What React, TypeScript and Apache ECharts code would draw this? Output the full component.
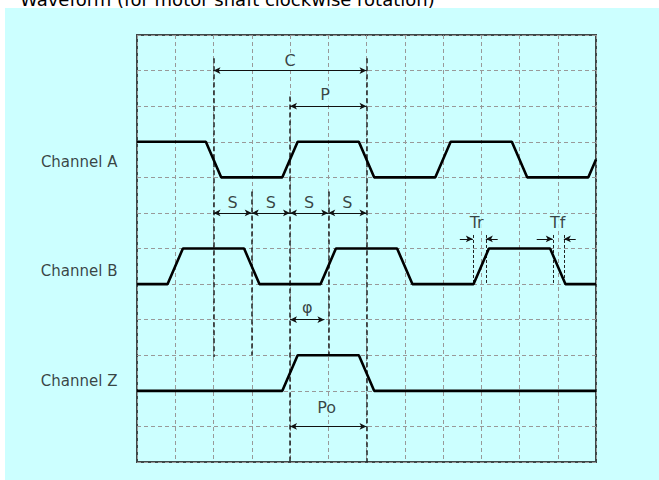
import React, { useEffect, useRef } from "react";
import * as echarts from "echarts";

// Waveforms in grid units (x: 0..12 columns, y: 0..12 rows from bottom)
const channelA: [number, number][] = [
  [0, 9], [1.8, 9], [2.2, 8], [3.8, 8], [4.2, 9], [5.8, 9], [6.2, 8],
  [7.8, 8], [8.2, 9], [9.8, 9], [10.2, 8], [11.8, 8], [12, 8.5],
];
const channelB: [number, number][] = [
  [0, 5], [0.8, 5], [1.2, 6], [2.8, 6], [3.2, 5], [4.8, 5], [5.2, 6],
  [6.8, 6], [7.2, 5], [8.8, 5], [9.2, 6], [10.8, 6], [11.2, 5], [12, 5],
];
const channelZ: [number, number][] = [
  [0, 2], [3.8, 2], [4.2, 3], [5.8, 3], [6.2, 2], [12, 2],
];

const channelNames = ["Channel A", "Channel B", "Channel Z"];
const channelLabelY = [8.44, 5.37, 2.28];

// vertical reference markers: [x, yTop, yBottom]
const markers: [number, number, number][] = [
  [2, 11.35, 2.95], [3, 7.6, 3.0], [4, 10.27, 0], [5, 7.6, 3.0], [6, 11.35, 0],
];
const edgeMarkers: [number, number, number][] = [
  [8.78, 6.38, 5.03], [9.12, 6.38, 5.03], [10.87, 6.38, 5.03], [11.16, 6.38, 5.03],
];

// double-headed dimension arrows: [x1, x2, y]
const dimArrows: [number, number, number][] = [
  [2, 6, 11], [4, 6, 10], [2, 3, 7], [3, 4, 7], [4, 5, 7], [5, 6, 7], [4, 4.9, 4], [4, 6, 1],
];
// single-headed arrows: [fromX, toX, y]
const edgeArrows: [number, number, number][] = [
  [8.44, 8.78, 6.27], [9.43, 9.12, 6.27], [10.45, 10.87, 6.27], [11.47, 11.16, 6.27],
];

const annTexts = ["C", "P", "S", "S", "S", "S", "φ", "Po", "Tr", "Tf"];
const annX = [4, 4.92, 2.5, 3.5, 4.5, 5.5, 4.45, 4.96, 8.88, 11.0];
const annY = [11.28, 10.34, 7.28, 7.28, 7.28, 7.28, 4.33, 1.54, 6.72, 6.72];

const title = "Waveform (for motor shaft clockwise rotation)";

const CYAN = "#ccffff";
const FONT = "DejaVu Sans";

export default function App() {
  const ref = useRef<HTMLDivElement>(null);
  useEffect(() => {
    const chart = echarts.init(ref.current!, null, { renderer: "svg" });
    const waveStyle = { color: "#000", width: 2.6 };
    chart.setOption({
      animation: false,
      graphic: [
        {
          type: "rect",
          z: -100,
          zlevel: 0,
          shape: { x: 5, y: 8, width: 660, height: 480 },
          style: { fill: CYAN },
          silent: true,
        },
        {
          type: "text",
          x: 20,
          y: -1,
          style: {
            text: title,
            fontSize: 18,
            fontFamily: FONT,
            fill: "#000",
            verticalAlign: "middle",
          },
        },
      ],
      grid: {
        left: 137,
        top: 35,
        width: 459,
        height: 427,
        show: true,
        borderColor: "#3f4848",
        borderWidth: 2,
        backgroundColor: "transparent",
      },
      xAxis: {
        type: "value",
        min: 0,
        max: 12,
        interval: 1,
        axisLine: { show: false },
        axisTick: { show: false },
        axisLabel: { show: false },
        splitLine: { show: true, lineStyle: { color: "#999", type: [4, 3], width: 1 } },
      },
      yAxis: {
        type: "value",
        min: 0,
        max: 12,
        interval: 1,
        axisLine: { show: false },
        axisTick: { show: false },
        axisLabel: { show: false },
        splitLine: { show: true, lineStyle: { color: "#999", type: [4, 3], width: 1 } },
      },
      series: [
        {
          type: "line",
          data: [],
          silent: true,
          markLine: {
            silent: true,
            symbol: ["none", "none"],
            label: { show: false },
            lineStyle: { color: "#222", type: [5, 3], width: 1.5 },
            data: markers.map(([x, y1, y2]) => [{ coord: [x, y1] }, { coord: [x, y2] }]),
          },
        },
        {
          type: "line",
          data: [],
          silent: true,
          markLine: {
            silent: true,
            symbol: ["none", "none"],
            label: { show: false },
            lineStyle: { color: "#222", type: [3, 2], width: 1 },
            data: edgeMarkers.map(([x, y1, y2]) => [{ coord: [x, y1] }, { coord: [x, y2] }]),
          },
        },
        {
          type: "line",
          data: [],
          silent: true,
          markLine: {
            silent: true,
            symbol: ["arrow", "arrow"],
            symbolSize: [5, 7],
            label: { show: false },
            lineStyle: { color: "#111", type: "solid", width: 1 },
            data: dimArrows.map(([x1, x2, y]) => [{ coord: [x1, y] }, { coord: [x2, y] }]),
          },
        },
        {
          type: "line",
          data: [],
          silent: true,
          markLine: {
            silent: true,
            symbol: ["none", "arrow"],
            symbolSize: [5, 7],
            label: { show: false },
            lineStyle: { color: "#111", type: "solid", width: 1 },
            data: edgeArrows.map(([x1, x2, y]) => [{ coord: [x1, y] }, { coord: [x2, y] }]),
          },
        },
        { type: "line", data: channelA, showSymbol: false, lineStyle: waveStyle, silent: true, z: 5 },
        { type: "line", data: channelB, showSymbol: false, lineStyle: waveStyle, silent: true, z: 5 },
        { type: "line", data: channelZ, showSymbol: false, lineStyle: waveStyle, silent: true, z: 5 },
        {
          type: "scatter",
          clip: false,
          symbolSize: 1,
          silent: true,
          itemStyle: { color: "transparent" },
          z: 6,
          data: annTexts.map((t, i) => [annX[i], annY[i], t]),
          label: {
            show: true,
            position: "inside",
            formatter: (p: any) => p.value[2],
            fontSize: 16,
            fontFamily: FONT,
            color: "#111",
            backgroundColor: CYAN,
            padding: [0, 2],
          },
        },
        {
          type: "scatter",
          clip: false,
          symbolSize: 1,
          silent: true,
          itemStyle: { color: "transparent" },
          data: channelNames.map((n, i) => [0, channelLabelY[i], n]),
          label: {
            show: true,
            position: "left",
            distance: 19,
            formatter: (p: any) => p.value[2],
            fontSize: 15,
            fontFamily: FONT,
            color: "#111",
          },
        },
      ],
    });
    return () => chart.dispose();
  }, []);
  return (
    <div
      ref={ref}
      style={{ position: "absolute", left: 0, top: 0, width: 659, height: 480 }}
    />
  );
}
